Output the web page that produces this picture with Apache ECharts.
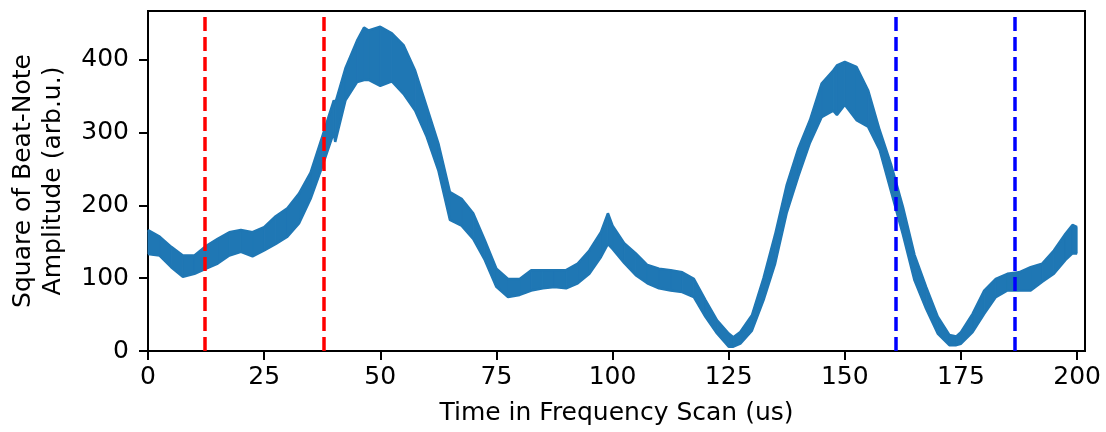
<!DOCTYPE html>
<html>
<head>
<meta charset="utf-8">
<script src="https://cdn.jsdelivr.net/npm/echarts@6/dist/echarts.min.js"></script>
<style>
  html, body { margin: 0; padding: 0; background: #fff; }
  #beat-chart { width: 1106px; height: 432px; }
</style>
</head>
<body>
<div id="beat-chart"></div>
<script>
// time axis (us) and the noisy trace read as an upper / lower envelope
var timeUs = [0, 2.5, 5, 7.5, 10, 12.5, 15, 17.5, 20, 22.5, 25, 27.5, 30, 32.5, 35, 37.5,
  40, 40.3, 42.5, 45, 46.5, 47.5, 50, 52.5, 55, 57.5, 60, 62.5, 65, 67.5, 70, 72.5, 75, 77.5,
  80, 82.5, 85, 87.5, 90, 92.5, 95, 97.5, 99, 100, 102.5, 105, 107.5, 110, 112.5, 115, 117.5,
  120, 122.5, 125, 126, 127.5, 130, 132.5, 135, 137.5, 140, 142.5, 145, 147.5, 148.3, 150,
  152.5, 155, 157.5, 160, 162.5, 165, 167.5, 170, 172.5, 174, 175, 177.5, 180, 182.5, 185,
  187.5, 190, 192.5, 195, 197.5, 199, 200];
var upperEnv = [166, 157, 143, 131, 131, 144, 154, 163, 166, 163, 170, 185, 196, 216, 245, 294,
  344, 340, 388, 426, 444, 440, 445, 436, 420, 385, 335, 285, 218, 209, 189, 152, 113, 99,
  99, 111, 111, 111, 111, 120, 138, 163, 189, 172, 148, 134, 118, 113, 111, 108, 99,
  70, 42, 24, 19, 26, 49, 100, 160, 228, 278, 317, 367, 385, 392, 397,
  390, 358, 303, 255, 198, 132, 88, 47, 22, 20, 26, 51, 83, 99, 106,
  108, 115, 120, 138, 161, 173, 170];
var lowerEnv = [133, 131, 115, 102, 106, 113, 120, 131, 136, 130, 138, 147, 157, 175, 209, 253,
  300, 287, 344, 369, 372, 372, 364, 370, 353, 330, 294, 248, 180, 172, 154, 125, 88, 74,
  77, 83, 86, 88, 86, 93, 106, 129, 147, 140, 121, 104, 93, 86, 83, 81, 74,
  47, 24, 6, 6, 10, 28, 70, 120, 190, 240, 286, 321, 330, 324, 338,
  317, 308, 276, 218, 160, 97, 58, 24, 8, 8, 10, 26, 51, 74, 83,
  83, 83, 95, 106, 125, 134, 134];

// dashed markers
var redMarks = [12.2, 37.8];
var blueMarks = [160.9, 186.5];

var xTicks = [0, 25, 50, 75, 100, 125, 150, 175, 200];
var yTicks = [0, 100, 200, 300, 400];

var lowerData = [], upperData = [], bandData = [];
for (var i = 0; i < timeUs.length; i++) {
  lowerData.push([timeUs[i], lowerEnv[i]]);
  upperData.push([timeUs[i], upperEnv[i]]);
  bandData.push([timeUs[i], lowerEnv[i], upperEnv[i]]);
}

var markLines = [];
redMarks.forEach(function (v) {
  markLines.push({ xAxis: v, lineStyle: { color: '#ff0000' } });
});
blueMarks.forEach(function (v) {
  markLines.push({ xAxis: v, lineStyle: { color: '#0000ff' } });
});

// fill between lower and upper envelope, one quad per segment
function renderBand(params, api) {
  var i = params.dataIndex;
  if (i >= bandData.length - 1) return null;
  var a = bandData[i], b = bandData[i + 1];
  var pts = [
    api.coord([a[0], a[1]]),
    api.coord([a[0], a[2]]),
    api.coord([b[0], b[2]]),
    api.coord([b[0], b[1]])
  ];
  return {
    type: 'polygon',
    shape: { points: pts },
    style: { fill: '#1f77b4', stroke: '#1f77b4', lineWidth: 1 }
  };
}

var font = 'DejaVu Sans';
var chart = echarts.init(document.getElementById('beat-chart'));

var option = {
  animation: false,
  grid: {
    left: 147, right: 21, top: 11, bottom: 81,
    show: true, borderColor: '#000', borderWidth: 2, backgroundColor: '#fff'
  },
  xAxis: {
    type: 'value',
    min: 0,
    max: 201.7,
    name: 'Time in Frequency Scan (us)',
    nameLocation: 'middle',
    nameGap: 50,
    nameTextStyle: { fontFamily: font, fontSize: 25, color: '#000' },
    axisLine: { lineStyle: { color: '#000', width: 2 } },
    axisTick: { length: 9, lineStyle: { color: '#000', width: 2 }, customValues: xTicks },
    axisLabel: { customValues: xTicks, fontFamily: font, fontSize: 25, color: '#000', margin: 14 },
    splitLine: { show: false }
  },
  yAxis: {
    type: 'value',
    min: 0,
    max: 466.7,
    name: 'Square of Beat-Note\nAmplitude (arb.u.)',
    nameLocation: 'middle',
    nameRotate: 90,
    nameGap: 80,
    nameTextStyle: { fontFamily: font, fontSize: 25, color: '#000', lineHeight: 30, align: 'center' },
    axisLine: { show: true, lineStyle: { color: '#000', width: 2 } },
    axisTick: { show: true, length: 9, lineStyle: { color: '#000', width: 2 }, customValues: yTicks },
    axisLabel: { customValues: yTicks, fontFamily: font, fontSize: 25, color: '#000', margin: 19 },
    splitLine: { show: false }
  },
  series: [
    {
      name: 'band',
      type: 'custom',
      renderItem: renderBand,
      data: bandData,
      encode: { x: 0, y: [1, 2] },
      silent: true
    },
    {
      name: 'lower',
      type: 'line',
      data: lowerData,
      showSymbol: false,
      lineStyle: { color: '#1f77b4', width: 2.5 }
    },
    {
      name: 'upper',
      type: 'line',
      data: upperData,
      showSymbol: false,
      lineStyle: { color: '#1f77b4', width: 2.5 }
    },
    {
      name: 'markers',
      type: 'line',
      data: [],
      z: 10,
      markLine: {
        silent: true,
        symbol: 'none',
        label: { show: false },
        lineStyle: { type: [14, 6], width: 3.5 },
        data: markLines
      }
    }
  ]
};
chart.setOption(option);

window.addEventListener('resize', function () {
  chart.resize();
});
</script>
</body>
</html>
